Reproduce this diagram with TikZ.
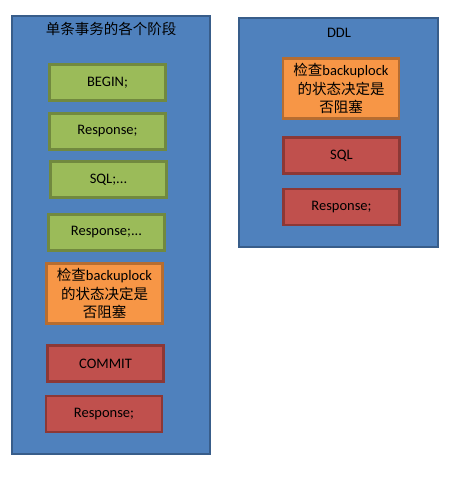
\documentclass[tikz,border=0pt]{standalone}
\usepackage{fontspec}
\setmainfont{Carlito}
\newfontfamily\cjk{Noto Sans CJK SC}
\usepackage{tikz}

\definecolor{bleu}{HTML}{4F81BD}
\definecolor{bleufonce}{HTML}{385D8A}
\definecolor{vert}{HTML}{9BBB59}
\definecolor{vertfonce}{HTML}{71893F}
\definecolor{orange}{HTML}{F79646}
\definecolor{orangefonce}{HTML}{B66D31}
\definecolor{rouge}{HTML}{C0504D}
\definecolor{rougefonce}{HTML}{8C3836}

\begin{document}
\begin{tikzpicture}[x=1pt, y=-1pt, font=\fontsize{14.5}{18.5}\selectfont,
    cadre/.style={draw=bleufonce, fill=bleu, line width=2pt, inner sep=0pt},
    etape/.style={line width=2.8pt, inner sep=0pt, minimum width=116pt, minimum height=36pt, align=center},
    ok/.style={etape, draw=vertfonce, fill=vert},
    verif/.style={etape, draw=orangefonce, fill=orange, minimum height=60pt},
    bloque/.style={etape, draw=rougefonce, fill=rouge}]
  \useasboundingbox (0, 0) rectangle (450, 478);

  % transaction
    \node[cadre, minimum width=198pt, minimum height=438pt] at (111, 235) (trx) {};
    \node at (111, 29) (trxtitre) {\cjk 单条事务的各个阶段};

    \node[ok] at (107.5, 82.5) (begin) {BEGIN;};
    \node[ok] at (107.5, 131.5) (rep1) {Response;};
    \node[ok] at (108.5, 179.5) (sql) {SQL;...};
    \node[ok] at (106.5, 232.5) (rep2) {Response;...};
    \node[verif] at (104.5, 293.5) (verif1) {{\cjk 检查}backuplock\\{\cjk 的状态决定是}\\{\cjk 否阻塞}};
    \node[bloque] at (105.5, 363.5) (commit) {COMMIT};
    \node[bloque] at (104, 414) (rep3) {Response;};

  % DDL
    \node[cadre, minimum width=199pt, minimum height=229pt] at (338.5, 132.5) (ddl) {};
    \node at (339, 33) (ddltitre) {DDL};

    \node[verif] at (341, 88.5) (verif2) {{\cjk 检查}backuplock\\{\cjk 的状态决定是}\\{\cjk 否阻塞}};
    \node[bloque] at (341.5, 155.5) (ddlsql) {SQL};
    \node[bloque] at (341.5, 207) (rep4) {Response;};
\end{tikzpicture}
\end{document}
